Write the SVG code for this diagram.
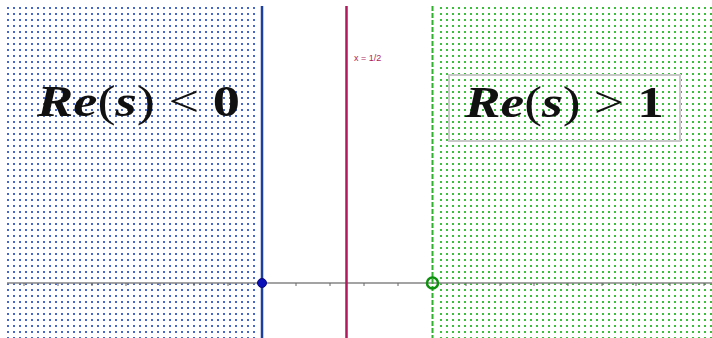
<svg xmlns="http://www.w3.org/2000/svg" width="712" height="338" viewBox="0 0 712 338">
  <defs>
    <pattern id="dotsBlue" patternUnits="userSpaceOnUse" x="6" y="6" width="6" height="6">
      <rect x="1" y="1" width="2" height="2" fill="#4668c8"/>
    </pattern>
    <pattern id="dotsGreen" patternUnits="userSpaceOnUse" x="1" y="6" width="6" height="6">
      <rect x="1" y="1" width="2" height="2" fill="#3cbf3c"/>
    </pattern>
  </defs>
  <style>
    .math { font-family: "Liberation Serif", "DejaVu Serif", serif; font-size: 44px; fill: #111; }
    .bi { font-weight: bold; font-style: italic; }
    .up { font-weight: normal; font-style: normal; }
    .b { font-weight: bold; font-style: normal; }
    .tick { stroke: #666; stroke-width: 1; }
  </style>
  <rect width="712" height="338" fill="#ffffff"/>

  <g id="region-left">
    <rect x="6" y="6" width="252" height="332" fill="url(#dotsBlue)"/>
  </g>
  <g id="region-right">
    <rect x="436" y="6" width="276" height="332" fill="url(#dotsGreen)"/>
  </g>

  <g id="axis">
    <line x1="7" y1="283" x2="712" y2="283" stroke="#858585" stroke-width="1.5"/>
    <g class="tick">
      <line x1="24" y1="283" x2="24" y2="286"/>
      <line x1="58" y1="283" x2="58" y2="286"/>
      <line x1="92" y1="283" x2="92" y2="286"/>
      <line x1="126" y1="283" x2="126" y2="286"/>
      <line x1="160" y1="283" x2="160" y2="286"/>
      <line x1="194" y1="283" x2="194" y2="286"/>
      <line x1="228" y1="283" x2="228" y2="286"/>
      <line x1="296" y1="283" x2="296" y2="286"/>
      <line x1="330" y1="283" x2="330" y2="286"/>
      <line x1="364" y1="283" x2="364" y2="286"/>
      <line x1="398" y1="283" x2="398" y2="286"/>
      <line x1="466" y1="283" x2="466" y2="286"/>
      <line x1="500" y1="283" x2="500" y2="286"/>
      <line x1="534" y1="283" x2="534" y2="286"/>
      <line x1="568" y1="283" x2="568" y2="286"/>
      <line x1="602" y1="283" x2="602" y2="286"/>
      <line x1="636" y1="283" x2="636" y2="286"/>
      <line x1="670" y1="283" x2="670" y2="286"/>
      <line x1="704" y1="283" x2="704" y2="286"/>
    </g>
  </g>

  <g id="line-re0">
    <line x1="262" y1="6" x2="262" y2="338" stroke="#1d3f9e" stroke-width="2.5"/>
  </g>
  <g id="line-half">
    <line x1="346.5" y1="6" x2="346.5" y2="338" stroke="#b01a5c" stroke-width="2.5"/>
    <text x="354" y="61" font-family="Liberation Sans, Arial, sans-serif" font-size="9" fill="#b01a5c">x = 1/2</text>
  </g>
  <g id="line-re1">
    <line x1="432.5" y1="6" x2="432.5" y2="338" stroke="#2fb02f" stroke-width="2" stroke-dasharray="5,2"/>
  </g>

  <g id="point-0">
    <circle cx="262" cy="283" r="4.5" fill="#0a10b8" stroke="#06087a" stroke-width="1"/>
  </g>
  <g id="point-1">
    <circle cx="432.5" cy="283" r="5.5" fill="none" stroke="#0d900d" stroke-width="2.5"/>
  </g>

  <g id="label-left">
    <text class="math" x="37" y="116" textLength="203" lengthAdjust="spacingAndGlyphs"><tspan class="bi">Re</tspan><tspan class="up">(</tspan><tspan class="bi">s</tspan><tspan class="up">) &lt; </tspan><tspan class="b">0</tspan></text>
  </g>
  <g id="label-right">
    <rect x="449" y="75" width="231" height="66" fill="none" stroke="#c8c8c8" stroke-width="2"/>
    <text class="math" x="465" y="117" textLength="199" lengthAdjust="spacingAndGlyphs"><tspan class="bi">Re</tspan><tspan class="up">(</tspan><tspan class="bi">s</tspan><tspan class="up">) &gt; </tspan><tspan class="b">1</tspan></text>
  </g>
</svg>
